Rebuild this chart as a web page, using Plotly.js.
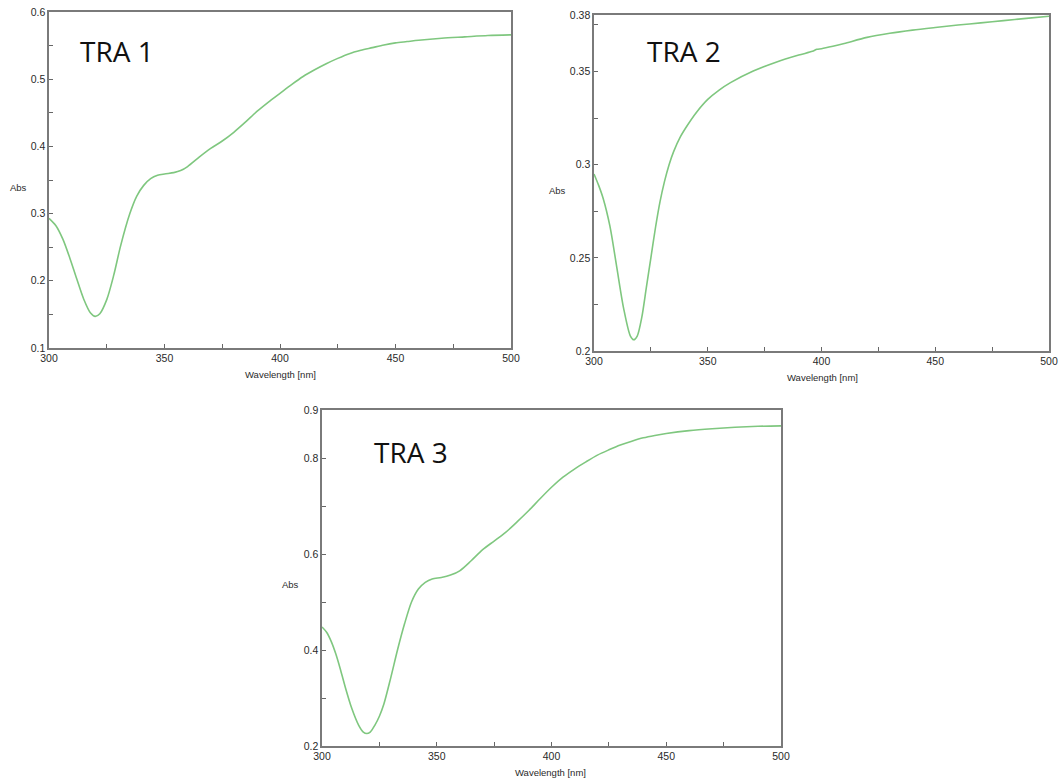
<!DOCTYPE html>
<html>
<head>
<meta charset="utf-8">
<script src="https://cdn.plot.ly/plotly-3.0.1.min.js"></script>
<style>html,body{margin:0;padding:0;background:#fff;}#chart{width:1062px;height:780px;}</style>
</head>
<body>
<div id="chart"></div>
<script>
// TRA 1
const tra1Wavelength = [300,303,306,309,312,315,318,320,322,325,328,331,335,338,341,344,347,350,354,357,360,365,370,375,380,385,390,395,400,405,410,415,420,425,430,435,440,445,450,455,460,470,480,490,500];
const tra1Abs = [0.293,0.282,0.262,0.234,0.203,0.173,0.152,0.147,0.151,0.172,0.208,0.252,0.300,0.326,0.342,0.352,0.357,0.359,0.361,0.364,0.370,0.384,0.397,0.408,0.421,0.436,0.452,0.466,0.479,0.492,0.504,0.514,0.523,0.531,0.538,0.543,0.547,0.551,0.554,0.556,0.558,0.561,0.563,0.565,0.566];

// TRA 2
const tra2Wavelength = [300,302,304,307,310,313,316,317.5,319,321,323,325,327,329,331,333,335,338,341,345,350,355,360,370,380,390,396,398,400,405,410,420,430,440,450,460,470,480,490,500];
const tra2Abs = [0.295,0.289,0.282,0.267,0.245,0.223,0.208,0.206,0.208,0.218,0.234,0.250,0.266,0.280,0.291,0.300,0.307,0.315,0.321,0.328,0.335,0.340,0.344,0.3502,0.3550,0.3588,0.3608,0.3619,0.3622,0.3635,0.3650,0.3683,0.3705,0.3722,0.3736,0.3749,0.3761,0.3773,0.3785,0.3796];

// TRA 3
const tra3Wavelength = [300,302,304,306,308,310,313,316,318,319.5,321,323,325,327,330,333,336,339,342,345,348,352,356,360,365,370,375,380,385,390,395,400,405,410,415,420,425,430,435,440,445,450,460,470,480,490,500];
const tra3Abs = [0.448,0.437,0.418,0.392,0.360,0.325,0.278,0.243,0.229,0.226,0.229,0.243,0.262,0.288,0.343,0.402,0.455,0.500,0.527,0.541,0.548,0.551,0.556,0.565,0.586,0.609,0.627,0.645,0.667,0.690,0.715,0.739,0.760,0.777,0.792,0.806,0.817,0.827,0.835,0.842,0.847,0.851,0.857,0.861,0.864,0.866,0.867];

const xTickVals = [300,350,400,450,500];
const y1TickVals = [0.1,0.2,0.3,0.4,0.5,0.6];
const y2TickVals = [0.2,0.25,0.3,0.35,0.38];
const y2TickText = ['0.2','0.25','0.3','0.35','0.38'];
const y3TickVals = [0.2,0.4,0.6,0.8,0.9];

const panelLabels = ['TRA 1','TRA 2','TRA 3'];

const lineStyle = {color:'#7fc77f', width:1.6, shape:'spline', smoothing:0.8};

const traces = [
  {x:tra1Wavelength, y:tra1Abs, xaxis:'x', yaxis:'y', type:'scatter', mode:'lines', line:lineStyle, hoverinfo:'x+y'},
  {x:tra2Wavelength, y:tra2Abs, xaxis:'x2', yaxis:'y2', type:'scatter', mode:'lines', line:lineStyle, hoverinfo:'x+y'},
  {x:tra3Wavelength, y:tra3Abs, xaxis:'x3', yaxis:'y3', type:'scatter', mode:'lines', line:lineStyle, hoverinfo:'x+y'}
];

const W = 1062, H = 780;
function dx(a,b){return [a/W, b/W];}
function dy(top,bottom){return [1-bottom/H, 1-top/H];}

const tickFont = {family:'Liberation Sans, Arial, sans-serif', size:10.5, color:'#2a2a2a'};
function xAxis(domain, anchor){
  return {domain:domain, anchor:anchor, range:[300,500], tickvals:xTickVals, ticks:'inside', ticklen:4, tickcolor:'#666',
    minor:{dtick:25, tick0:300, ticks:'inside', ticklen:4, tickcolor:'#666'},
    showline:true, linecolor:'#7a7a7a', linewidth:1.6, mirror:true, showgrid:false, zeroline:false,
    tickfont:tickFont, ticklabelstandoff:0, fixedrange:true};
}
function yAxis(domain, anchor, range, tickvals, ticktext, minorDtick, minorTick0){
  const a = {domain:domain, anchor:anchor, range:range, tickvals:tickvals, ticks:'inside', ticklen:4, tickcolor:'#666',
    minor:{dtick:minorDtick, tick0:minorTick0, ticks:'inside', ticklen:4, tickcolor:'#666'},
    showline:true, linecolor:'#7a7a7a', linewidth:1.6, mirror:true, showgrid:false, zeroline:false,
    tickfont:tickFont, ticklabelstandoff:0, fixedrange:true};
  if (ticktext) a.ticktext = ticktext;
  return a;
}

const smallFont = {family:'Liberation Sans, Arial, sans-serif', size:9.5, color:'#2a2a2a'};
const bigFont = {family:'Open Sans, sans-serif', size:28, color:'#111'};
function ann(text, x, y, font, xanchor){
  return {text:text, xref:'paper', yref:'paper', x:x/W, y:1-y/H, showarrow:false, font:font, xanchor:xanchor||'center', yanchor:'middle'};
}

const layout = {
  width:W, height:H, margin:{l:0,r:0,t:0,b:0}, paper_bgcolor:'#fff', plot_bgcolor:'#fff', showlegend:false,
  xaxis: xAxis(dx(49,511), 'y'),
  yaxis: yAxis(dy(12,348), 'x', [0.1,0.6], y1TickVals, null, 0.05, 0.1),
  xaxis2: xAxis(dx(594,1049), 'y2'),
  yaxis2: yAxis(dy(15,351), 'x2', [0.2,0.3803], y2TickVals, y2TickText, 0.025, 0.2),
  xaxis3: xAxis(dx(322,781), 'y3'),
  yaxis3: yAxis(dy(410,746), 'x3', [0.2,0.9], y3TickVals, null, 0.1, 0.2),
  annotations: [
    ann(panelLabels[0], 78, 51, bigFont, 'left'),
    ann(panelLabels[1], 645, 51, bigFont, 'left'),
    ann(panelLabels[2], 372, 452, bigFont, 'left'),
    ann('Abs', 18, 187, smallFont),
    ann('Abs', 557, 190, smallFont),
    ann('Abs', 290, 584, smallFont),
    ann('Wavelength [nm]', 280, 374, smallFont),
    ann('Wavelength [nm]', 822, 377, smallFont),
    ann('Wavelength [nm]', 550, 772, smallFont)
  ]
};

Plotly.newPlot('chart', traces, layout, {displayModeBar:false, staticPlot:true});
</script>
</body>
</html>
